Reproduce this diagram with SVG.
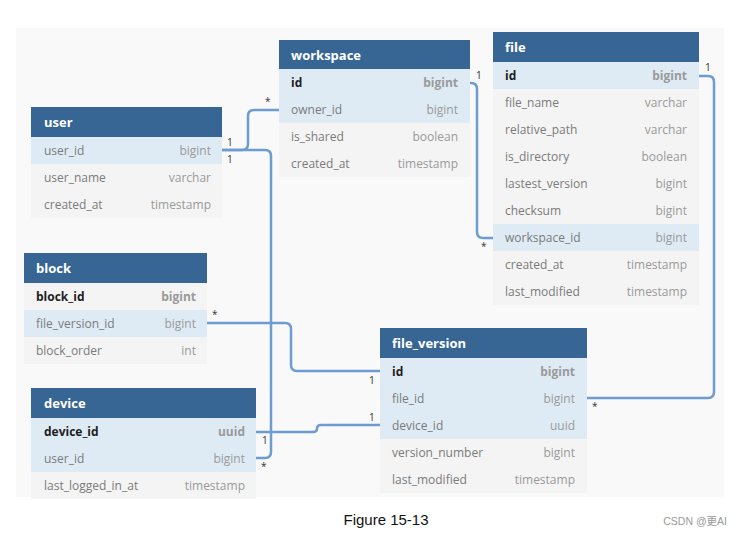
<svg xmlns="http://www.w3.org/2000/svg" width="742" height="535" viewBox="0 0 742 535">
<style>
.hd{fill:#386694}
.ht{fill:#ffffff;font-family:"Open Sans","DejaVu Sans",sans-serif;font-size:13px;font-weight:bold}
.hl{fill:#deebf4}
.pl{fill:#f4f4f4}
.cn{fill:#7b7b7b;font-family:"Open Sans","DejaVu Sans",sans-serif;font-size:12px}
.ct{fill:#9a9a9a;font-family:"Open Sans","DejaVu Sans",sans-serif;font-size:12px;text-anchor:end}
.pk{fill:#1e1e1e;font-weight:bold}
.pt{font-weight:bold}
.ln{fill:none;stroke:#6d9dd0;stroke-width:2.5}
.lb{fill:#333;font-family:"Open Sans","DejaVu Sans",sans-serif;font-size:10px}
</style>
<rect x="0" y="0" width="742" height="535" fill="#ffffff"/>
<rect x="16" y="28" width="708" height="469" fill="#f9f9f9"/>

<g id="connectors">
<path class="ln" d="M222,150 H242 Q248,150 248,144 V116 Q248,110 254,110 H279"/>
<path class="ln" d="M222,150 H265 Q271,150 271,156 V452 Q271,458 265,458 H256"/>
<path class="ln" d="M207,323 H285 Q291,323 291,329 V365 Q291,371 297,371 H380"/>
<path class="ln" d="M470,83 H471 Q477,83 477,89 V232 Q477,238 483,238 H493"/>
<path class="ln" d="M699,76 H708 Q714,76 714,82 V392 Q714,398 708,398 H587"/>
<path class="ln" d="M256,432 H313 Q317,432 317,428.5 Q317,425 321,425 H380"/>
<text class="lb" x="227" y="146">1</text>
<text class="lb" x="227" y="163">1</text>
<text class="lb" x="265" y="105">*</text>
<text class="lb" x="476" y="79">1</text>
<text class="lb" x="481" y="250">*</text>
<text class="lb" x="705" y="71">1</text>
<text class="lb" x="592" y="410">*</text>
<text class="lb" x="212" y="318">*</text>
<text class="lb" x="369" y="384">1</text>
<text class="lb" x="262" y="444">1</text>
<text class="lb" x="261" y="470">*</text>
<text class="lb" x="369" y="421">1</text>
</g>

<g id="user">
<rect class="hd" x="31" y="107" width="191" height="30"/>
<text class="ht" x="44" y="127">user</text>
<rect class="hl" x="31" y="137" width="191" height="27"/>
<rect class="pl" x="31" y="164" width="191" height="54"/>
<text class="cn" x="44" y="155">user_id</text><text class="ct" x="211" y="155">bigint</text>
<text class="cn" x="44" y="182">user_name</text><text class="ct" x="211" y="182">varchar</text>
<text class="cn" x="44" y="209">created_at</text><text class="ct" x="211" y="209">timestamp</text>
</g>

<g id="workspace">
<rect class="hd" x="279" y="40" width="191" height="29"/>
<text class="ht" x="291" y="60">workspace</text>
<rect class="hl" x="279" y="69" width="191" height="54"/>
<rect class="pl" x="279" y="123" width="191" height="54"/>
<text class="cn pk" x="291" y="87">id</text><text class="ct pt" x="458" y="87">bigint</text>
<text class="cn" x="291" y="114">owner_id</text><text class="ct" x="458" y="114">bigint</text>
<text class="cn" x="291" y="141">is_shared</text><text class="ct" x="458" y="141">boolean</text>
<text class="cn" x="291" y="168">created_at</text><text class="ct" x="458" y="168">timestamp</text>
</g>

<g id="file">
<rect class="hd" x="493" y="32" width="206" height="30"/>
<text class="ht" x="505" y="52">file</text>
<rect class="hl" x="493" y="62" width="206" height="27"/>
<rect class="pl" x="493" y="89" width="206" height="135"/>
<rect class="hl" x="493" y="224" width="206" height="27"/>
<rect class="pl" x="493" y="251" width="206" height="54"/>
<text class="cn pk" x="505" y="80">id</text><text class="ct pt" x="687" y="80">bigint</text>
<text class="cn" x="505" y="107">file_name</text><text class="ct" x="687" y="107">varchar</text>
<text class="cn" x="505" y="134">relative_path</text><text class="ct" x="687" y="134">varchar</text>
<text class="cn" x="505" y="161">is_directory</text><text class="ct" x="687" y="161">boolean</text>
<text class="cn" x="505" y="188">lastest_version</text><text class="ct" x="687" y="188">bigint</text>
<text class="cn" x="505" y="215">checksum</text><text class="ct" x="687" y="215">bigint</text>
<text class="cn" x="505" y="242">workspace_id</text><text class="ct" x="687" y="242">bigint</text>
<text class="cn" x="505" y="269">created_at</text><text class="ct" x="687" y="269">timestamp</text>
<text class="cn" x="505" y="296">last_modified</text><text class="ct" x="687" y="296">timestamp</text>
</g>

<g id="block">
<rect class="hd" x="24" y="253" width="183" height="30"/>
<text class="ht" x="36" y="273">block</text>
<rect class="pl" x="24" y="283" width="183" height="27"/>
<rect class="hl" x="24" y="310" width="183" height="27"/>
<rect class="pl" x="24" y="337" width="183" height="27"/>
<text class="cn pk" x="36" y="301">block_id</text><text class="ct pt" x="196" y="301">bigint</text>
<text class="cn" x="36" y="328">file_version_id</text><text class="ct" x="196" y="328">bigint</text>
<text class="cn" x="36" y="355">block_order</text><text class="ct" x="196" y="355">int</text>
</g>

<g id="device">
<rect class="hd" x="31" y="388" width="225" height="30"/>
<text class="ht" x="44" y="408">device</text>
<rect class="hl" x="31" y="418" width="225" height="54"/>
<rect class="pl" x="31" y="472" width="225" height="27"/>
<text class="cn pk" x="44" y="436">device_id</text><text class="ct pt" x="245" y="436">uuid</text>
<text class="cn" x="44" y="463">user_id</text><text class="ct" x="245" y="463">bigint</text>
<text class="cn" x="44" y="490">last_logged_in_at</text><text class="ct" x="245" y="490">timestamp</text>
</g>

<g id="file_version">
<rect class="hd" x="380" y="328" width="207" height="30"/>
<text class="ht" x="392" y="348">file_version</text>
<rect class="hl" x="380" y="358" width="207" height="81"/>
<rect class="pl" x="380" y="439" width="207" height="54"/>
<text class="cn pk" x="392" y="376">id</text><text class="ct pt" x="575" y="376">bigint</text>
<text class="cn" x="392" y="403">file_id</text><text class="ct" x="575" y="403">bigint</text>
<text class="cn" x="392" y="430">device_id</text><text class="ct" x="575" y="430">uuid</text>
<text class="cn" x="392" y="457">version_number</text><text class="ct" x="575" y="457">bigint</text>
<text class="cn" x="392" y="484">last_modified</text><text class="ct" x="575" y="484">timestamp</text>
</g>

<text x="386" y="525" text-anchor="middle" font-family="'Liberation Sans',Arial,sans-serif" font-size="15" fill="#111">Figure 15-13</text>
<text x="727" y="525" text-anchor="end" font-family="'Liberation Sans','Noto Sans CJK SC',sans-serif" font-size="10.5" fill="#999">CSDN @更AI</text>
</svg>
